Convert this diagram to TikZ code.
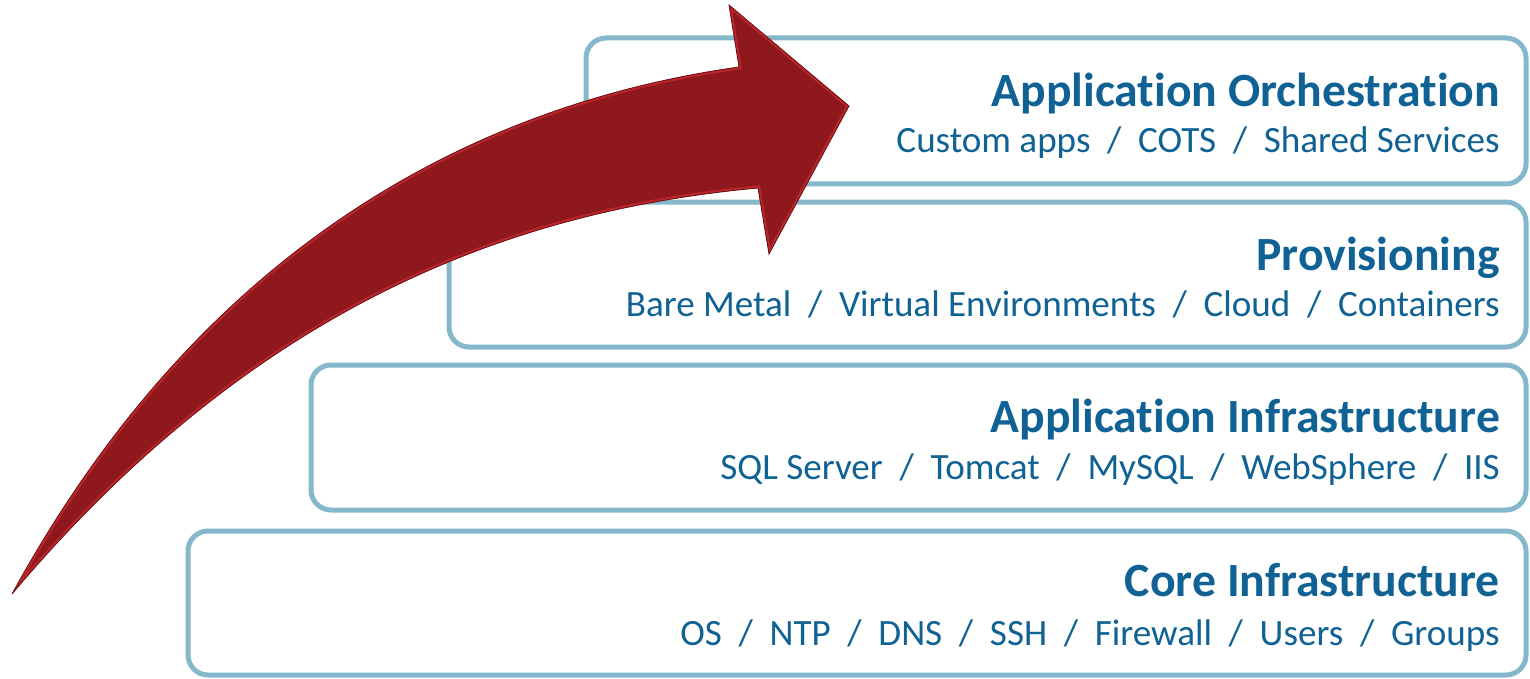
\documentclass[tikz,border=0pt]{standalone}
\usepackage{fontspec}
\setmainfont{Carlito}[Ligatures=NoCommon, Contextuals=NoAlternate]
\definecolor{layerline}{RGB}{132,184,202}
\definecolor{layertext}{RGB}{16,98,148}
\definecolor{arrowfill}{RGB}{142,24,28}
\definecolor{arrowbevel}{RGB}{184,38,44}
\definecolor{arrowedge}{RGB}{110,16,20}
\newcommand\slsep{\hspace{0.45em}/\hspace{0.45em}}
\tikzset{
  layerbox/.style={draw=layerline, line width=5pt, rounded corners=20pt, fill=white},
  layertitle/.style={anchor=base east, inner sep=0pt, text=layertext,
    font=\fontsize{47.7}{56}\selectfont\bfseries},
  layeritems/.style={anchor=base east, inner sep=0pt, text=layertext,
    font=\fontsize{37.1}{44}\selectfont},
}
\begin{document}
\begin{tikzpicture}[x=1pt,y=-1pt]
\useasboundingbox (0,0) rectangle (1530,679);

% stacked layers, bottom one widest
\draw[layerbox] (188,531) coordinate (coreNW) rectangle (1526,675) coordinate (coreSE);
\draw[layerbox] (311,365) coordinate (appinfNW) rectangle (1526,510) coordinate (appinfSE);
\draw[layerbox] (449,202) coordinate (provNW) rectangle (1526,347) coordinate (provSE);
\draw[layerbox] (586,38) coordinate (orchNW) rectangle (1526,184) coordinate (orchSE);

% layer captions
\node[layertitle] (orchT) at (1500,107) {Application Orchestration};
\node[layeritems] (orchI) at (1500,153) {Custom apps\slsep COTS\slsep Shared Services};
\node[layertitle] (provT) at (1500,270) {Provisioning};
\node[layeritems] (provI) at (1500,316) {Bare Metal\slsep Virtual Environments\slsep Cloud\slsep Containers};
\node[layertitle] (appinfT) at (1500,432) {Application Infrastructure};
\node[layeritems] (appinfI) at (1500,479) {SQL Server\slsep Tomcat\slsep MySQL\slsep WebSphere\slsep IIS};
\node[layertitle] (coreT) at (1500,596) {Core Infrastructure};
\node[layeritems] (coreI) at (1500,645) {OS\slsep NTP\slsep DNS\slsep SSH\slsep Firewall\slsep Users\slsep Groups};

% sweeping red arrow climbing over the layers
\def\arrowpath{(12,594) .. controls (200,250) and (470,105) .. (739,67)
  -- (729,5) -- (849,106) -- (769,254) -- (758,188)
  .. controls (520,210) and (260,300) .. (12,594) -- cycle}
\fill[arrowfill] \arrowpath;
\begin{scope}
  \clip \arrowpath;
  \draw[arrowbevel, line width=5pt, line join=miter] \arrowpath;
\end{scope}
\draw[arrowedge, line width=0.8pt, line join=miter] \arrowpath;
\end{tikzpicture}
\end{document}
